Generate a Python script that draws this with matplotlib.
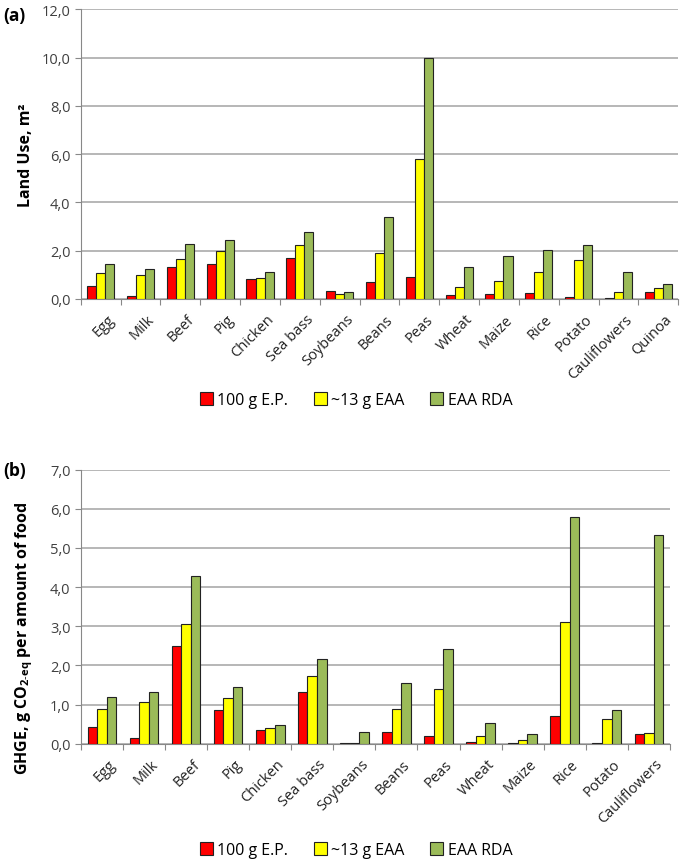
import matplotlib.pyplot as plt
import numpy as np
from matplotlib.ticker import FuncFormatter

plt.rcParams["font.family"] = ["Open Sans", "DejaVu Sans"]
plt.rcParams["mathtext.fontset"] = "custom"
plt.rcParams["mathtext.rm"] = "Open Sans"
plt.rcParams["mathtext.bf"] = "Open Sans:bold"

series = ["100 g E.P.", "~13 g EAA", "EAA RDA"]
colors = ["#FF0000", "#FFFF00", "#9BBB59"]

# (a) land use, m2
foods_a = ["Egg", "Milk", "Beef", "Pig", "Chicken", "Sea bass", "Soybeans", "Beans",
           "Peas", "Wheat", "Maize", "Rice", "Potato", "Cauliflowers", "Quinoa"]
land_ep = [0.52, 0.14, 1.34, 1.45, 0.81, 1.70, 0.32, 0.70, 0.90, 0.15, 0.22, 0.25, 0.07, 0.04, 0.30]
land_eaa = [1.08, 0.99, 1.64, 1.99, 0.87, 2.22, 0.19, 1.89, 5.78, 0.51, 0.74, 1.10, 1.61, 0.28, 0.47]
land_rda = [1.43, 1.24, 2.29, 2.44, 1.12, 2.77, 0.30, 3.38, 10.0, 1.31, 1.77, 2.04, 2.22, 1.12, 0.62]

# (b) GHGE, g CO2-eq
foods_b = foods_a[:-1]
ghge_ep = [0.43, 0.15, 2.49, 0.85, 0.35, 1.32, 0.01, 0.31, 0.20, 0.05, 0.03, 0.71, 0.02, 0.25]
ghge_eaa = [0.90, 1.06, 3.07, 1.17, 0.39, 1.72, 0.01, 0.88, 1.40, 0.20, 0.10, 3.11, 0.62, 0.28]
ghge_rda = [1.19, 1.33, 4.28, 1.44, 0.49, 2.16, 0.31, 1.55, 2.41, 0.54, 0.25, 5.79, 0.86, 5.33]


def draw_panel(ax, foods, values, ymax, ystep, ylabel, label_y):
    x = np.arange(len(foods))
    w = 0.227
    for i, (vals, col, name) in enumerate(zip(values, colors, series)):
        ax.bar(x + (i - 1) * w, vals, w, color=col, edgecolor="#222222",
               linewidth=0.8, label=name, zorder=3)
    ax.set_xlim(-0.5, len(foods) - 0.5)
    ax.set_ylim(0, ymax)
    ax.set_yticks(np.arange(0, ymax + 0.001, ystep))
    ax.yaxis.set_major_formatter(FuncFormatter(lambda v, p: f"{v:.1f}".replace(".", ",")))
    ax.yaxis.grid(True, color="#AAAAAA", linewidth=1.2, zorder=0)
    ax.set_xticks(np.arange(len(foods) + 1) - 0.5, minor=False)
    ax.set_xticklabels([])
    ax.set_xticks(x + 0.15, minor=True)
    ax.set_xticklabels(foods, minor=True, rotation=45, ha="right",
                       rotation_mode="anchor", fontsize=10.5, color="#222222")
    ax.tick_params(axis="x", which="minor", length=0, pad=9)
    ax.tick_params(axis="x", which="major", length=4, color="#888888", direction="out")
    ax.tick_params(axis="y", length=4, color="#888888", labelsize=10.5, labelcolor="#404040")
    for s in ["top", "right"]:
        ax.spines[s].set_visible(False)
    for s in ["left", "bottom"]:
        ax.spines[s].set_color("#888888")
    ax.set_ylabel(ylabel, fontsize=11.5, fontweight="bold")
    ax.yaxis.set_label_coords(-0.078, label_y)


fig = plt.figure(figsize=(6.85, 8.62), dpi=100)
ax1 = fig.add_axes([0.118, 0.652, 0.872, 0.336])
ax2 = fig.add_axes([0.118, 0.136, 0.860, 0.318])

draw_panel(ax1, foods_a, [land_ep, land_eaa, land_rda], 12, 2, "Land Use, m²", 0.5)
draw_panel(ax2, foods_b, [ghge_ep, ghge_eaa, ghge_rda], 7, 1,
           r"GHGE, g CO$_{\mathbf{2\text{-}eq}}$ per amount of food", 0.39)

fig.text(0.005, 0.982, "(a)", fontsize=12.5, fontweight="bold", va="center")
fig.text(0.005, 0.454, "(b)", fontsize=12.5, fontweight="bold", va="center")

for ax, ylg in [(ax1, 0.535), (ax2, 0.013)]:
    h, l = ax.get_legend_handles_labels()
    fig.legend(h, l, loc="center", bbox_to_anchor=(0.52, ylg), ncol=3, frameon=False,
               fontsize=11.5, handlelength=0.8, handleheight=0.9, columnspacing=1.6,
               handletextpad=0.3)

fig.savefig("out.png", dpi=100)
